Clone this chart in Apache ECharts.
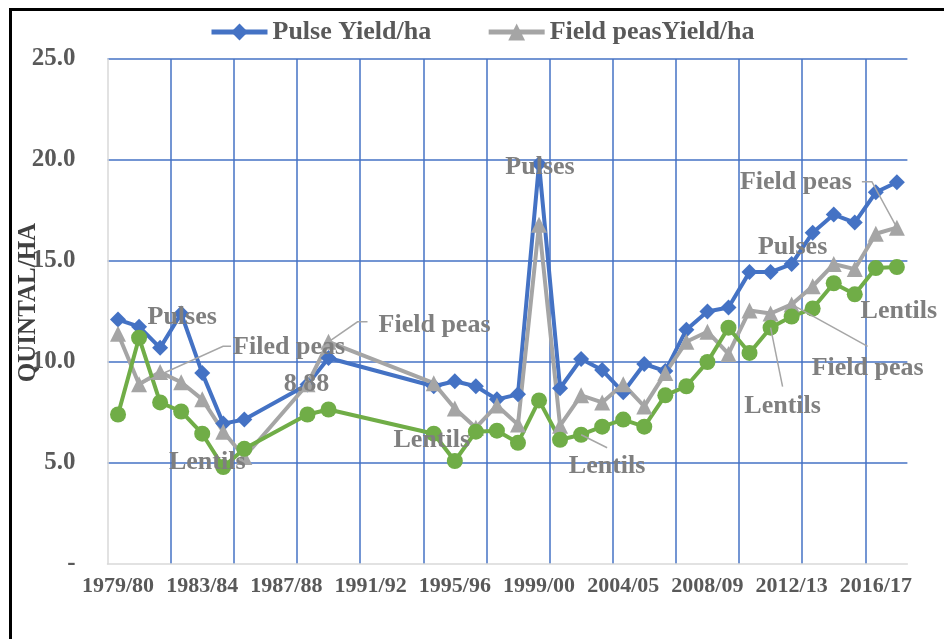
<!DOCTYPE html>
<html>
<head>
<meta charset="utf-8">
<script src="https://cdn.jsdelivr.net/npm/echarts@6.0.0/dist/echarts.min.js"></script>
<style>
html,body{margin:0;padding:0;background:#ffffff;}
#chart{width:944px;height:639px;}
</style>
</head>
<body>
<div id="chart"></div>
<script>
// ---------- data ----------
const categories = [
  '1979/80','1980/81','1981/82','1982/83','1983/84','1984/85','1985/86','1986/87',
  '1987/88','1988/89','1989/90','1990/91','1991/92','1992/93','1993/94','1994/95',
  '1995/96','1996/97','1997/98','1998/99','1999/00','2001/02','2002/03','2003/04',
  '2004/05','2005/06','2006/07','2007/08','2008/09','2009/10','2010/11','2011/12',
  '2012/13','2013/14','2014/15','2015/16','2016/17','2017/18'
];
const pulseYield = [
  12.1, 11.75, 10.7, 12.4, 9.45, 6.95, 7.15, null,
  null, 8.88, 10.2, null, null, null, null, 8.8,
  9.05, 8.8, 8.15, 8.4, 19.8, 8.7, 10.15, 9.6,
  8.5, 9.9, 9.55, 11.6, 12.5, 12.7, 14.45, 14.45,
  14.85, 16.4, 17.3, 16.9, 18.4, 18.9
];
const fieldPeasYield = [
  11.4, 8.9, 9.5, 9.0, 8.15, 6.55, 5.3, null,
  null, 8.9, 11.0, null, null, null, null, 8.95,
  7.7, 6.75, 7.85, 6.9, 16.8, 6.85, 8.35, 8.0,
  8.9, 7.8, 9.45, 11.0, 11.5, 10.4, 12.55, 12.4,
  12.85, 13.75, 14.85, 14.6, 16.35, 16.65
];
const lentilYield = [
  7.4, 11.2, 8.0, 7.55, 6.45, 4.8, 5.7, null,
  null, 7.4, 7.65, null, null, null, null, 6.45,
  5.1, 6.55, 6.6, 6.0, 8.1, 6.15, 6.4, 6.8,
  7.15, 6.8, 8.35, 8.8, 10.0, 11.7, 10.45, 11.7,
  12.25, 12.65, 13.9, 13.35, 14.65, 14.7
];
const seriesNames = ['Pulse Yield/ha', 'Field peasYield/ha', 'Lentils Yield/ha'];
const yMin = 0, yMax = 25, yStep = 5;

// callout labels: series index, data index, text
const calloutSeries = [0, 1, 0, 1, 2, 2, 0, 2, 1, 0, 2, 1, 2];
const calloutIndex  = [3, 1, 9, 10, 5, 15, 20, 22, 37, 31, 37, 32, 31];
const calloutText   = ['Pulses','Filed peas','8.88','Field peas','Lentils','Lentils','Pulses',
                       'Lentils','Field peas','Pulses','Lentils','Field peas','Lentils'];

// ---------- styling (positions / offsets) ----------
const FONT = '"Liberation Serif","Times New Roman",serif';
const BLUE = '#4472C4', GRAY = '#A5A5A5', GREEN = '#70AD47';
const calloutOffset = [[1,4],[150,-37],[-1,0],[106,-17],[-16,-5],[-2,7],[1,3],
                       [26,32],[-101,-45],[22,-25],[2,44],[76,64],[12,79]];
const calloutLeader = [null, [[0,0],[84,-38],[92,-38]], null, [[0,0],[29,-20],[39,-20]],
                       null, null, null, [[0,0],[26,13]], [[0,0],[-25,-46],[-35,-46]],
                       null, null, [[0,0],[76,42]], [[0,0],[12,59]]];

const xSplitColors = ['rgba(0,0,0,0)'];
for (let k = 0; k < 12; k++) xSplitColors.push(BLUE);
xSplitColors.push('rgba(0,0,0,0)');
const ySplitColors = ['rgba(0,0,0,0)', BLUE, BLUE, BLUE, BLUE, BLUE];

const chart = echarts.init(document.getElementById('chart'), null, {renderer: 'canvas'});

function mkSeries(name, data, color, symbol, size) {
  return {
    name: name, type: 'line', data: data, connectNulls: true,
    symbol: symbol, symbolSize: size, showAllSymbol: true,
    lineStyle: {color: color, width: 4},
    itemStyle: {color: color},
    emphasis: {disabled: true},
    animation: false
  };
}

const option = {
  animation: false,
  backgroundColor: '#ffffff',
  grid: {left: 107.5, right: 36.6, top: 59, bottom: 75, containLabel: false, outerBoundsMode: 'none'},
  legend: {
    data: [seriesNames[0], seriesNames[1]],
    left: 204, top: 14,
    itemWidth: 56, itemHeight: 21, itemGap: 55,
    lineStyle: {width: 5},
    textStyle: {fontFamily: FONT, fontWeight: 'bold', fontSize: 26, color: '#595959'},
    selectedMode: false
  },
  xAxis: {
    type: 'category', data: categories, boundaryGap: true,
    axisLine: {show: true, lineStyle: {color: '#D9D9D9', width: 1.5}},
    axisTick: {show: false},
    axisLabel: {interval: function (idx) { return idx % 4 === 0; },
                color: '#595959', fontFamily: FONT,
                fontWeight: 'bold', fontSize: 22, margin: 11, hideOverlap: false},
    splitLine: {show: true, interval: 2, lineStyle: {color: xSplitColors, width: 1.5}}
  },
  yAxis: {
    type: 'value', min: yMin, max: yMax, interval: yStep,
    name: 'QUINTAL/HA', nameLocation: 'middle', nameGap: 66, nameRotate: 90,
    nameMoveOverlap: false,
    nameTextStyle: {fontFamily: FONT, fontWeight: 'bold', fontSize: 25, color: '#404040',
                    padding: [0, 0, 0, 18]},
    axisLine: {show: true, lineStyle: {color: '#D9D9D9', width: 1.5}},
    axisTick: {show: false},
    axisLabel: {formatter: function (v) { return v === 0 ? '-' : v.toFixed(1); },
                color: '#595959', fontFamily: FONT, fontWeight: 'bold', fontSize: 25, margin: 32},
    splitLine: {show: true, lineStyle: {color: ySplitColors, width: 1.5}}
  },
  series: [
    mkSeries(seriesNames[0], pulseYield, BLUE, 'diamond', 16),
    mkSeries(seriesNames[1], fieldPeasYield, GRAY, 'triangle', 16),
    mkSeries(seriesNames[2], lentilYield, GREEN, 'circle', 16)
  ]
};
chart.setOption(option);

const seriesData = [pulseYield, fieldPeasYield, lentilYield];
const graphics = [];
// outer frame
graphics.push({type: 'polyline', shape: {points: [[10.5, 639], [10.5, 9.5], [944, 9.5]]},
  style: {stroke: '#000000', lineWidth: 3, fill: null}, z: 200, silent: true});

for (let k = 0; k < calloutText.length; k++) {
  const s = calloutSeries[k], i = calloutIndex[k];
  const p = chart.convertToPixel({seriesIndex: s}, [i, seriesData[s][i]]);
  const off = calloutOffset[k];
  const lead = calloutLeader[k];
  if (lead) {
    graphics.push({type: 'polyline',
      shape: {points: lead.map(function (q) { return [p[0] + q[0], p[1] + q[1]]; })},
      style: {stroke: '#A6A6A6', lineWidth: 1.5, fill: null}, z: 90, silent: true});
  }
  graphics.push({type: 'text', x: p[0] + off[0], y: p[1] + off[1], z: 100, silent: true,
    style: {text: calloutText[k], fill: '#7F7F7F', font: 'bold 26px ' + FONT,
            align: 'center', verticalAlign: 'middle', textAlign: 'center', textVerticalAlign: 'middle'}});
}
chart.setOption({graphic: graphics});
</script>
</body>
</html>
